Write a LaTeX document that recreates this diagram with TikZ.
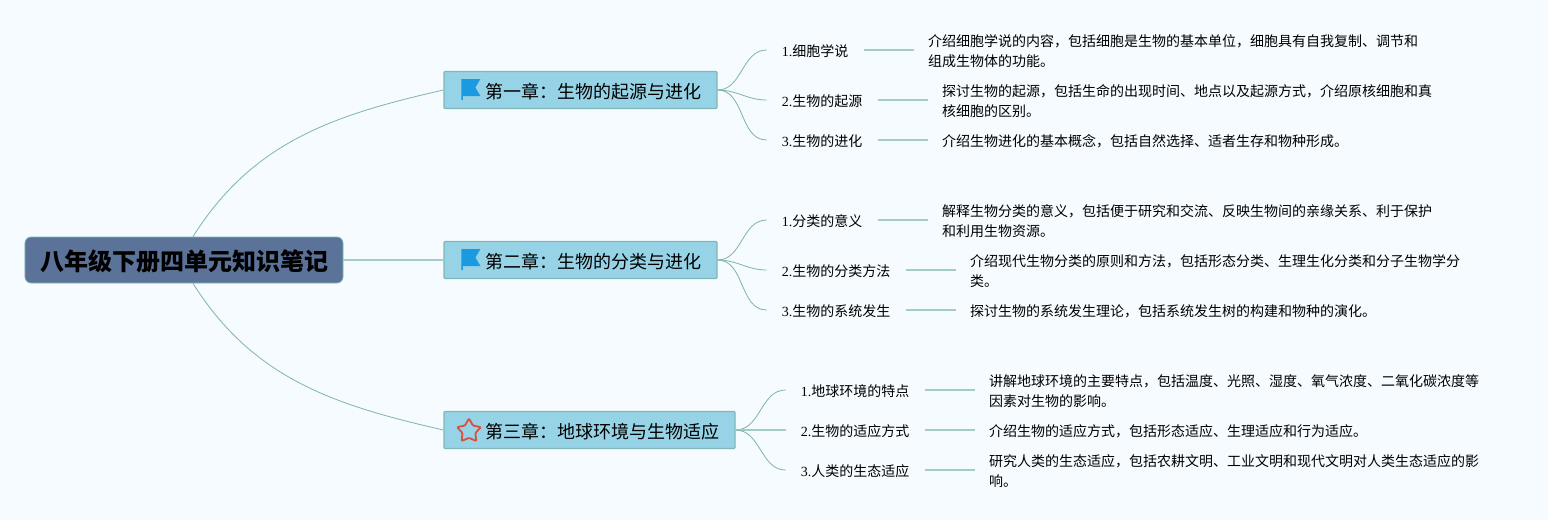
\documentclass[tikz,border=0pt]{standalone}
\usepackage{fontspec}
\setmainfont{Noto Sans CJK SC}
\newfontfamily\digitfont{Liberation Serif}
\usetikzlibrary{positioning,shapes.geometric}

\definecolor{pagebg}{HTML}{F5FBFF}
\definecolor{rootfill}{HTML}{5B7299}
\definecolor{chapfill}{HTML}{96D3E6}
\definecolor{chapedge}{HTML}{7FB8B6}
\definecolor{linkdark}{HTML}{7FB3AD}
\definecolor{linklight}{HTML}{A3CBC7}
\definecolor{flagblue}{HTML}{1A9AE0}
\definecolor{starred}{HTML}{D9503F}

\newcommand{\subnum}[1]{{\digitfont #1}}

\tikzset{
  pics/flagicon/.style={code={
    \fill[flagblue] (0pt,-10pt) -- (0pt,11pt) -- (19pt,11pt) -- (14pt,2.5pt) -- (19pt,-6pt) -- (1.5pt,-6pt) -- (1.5pt,-10pt) -- cycle;
  }}
}

\begin{document}
\begin{tikzpicture}[
  x=1pt,y=1pt,
  rootbox/.style={draw=chapedge,fill=rootfill,rounded corners=6pt,line width=0.8pt,inner xsep=13pt,inner ysep=0pt,minimum height=46pt,text height=21.2pt,text depth=0pt,font=\fontsize{24}{28}\selectfont\bfseries},
  chapbox/.style={draw=chapedge,fill=chapfill,rounded corners=1pt,line width=1.2pt,inner xsep=15.5pt,inner ysep=0pt,minimum height=37pt,text height=16.7pt,text depth=0pt,font=\fontsize{18}{22}\selectfont},
  subbox/.style={inner xsep=15pt,inner ysep=2pt,text height=12.6pt,text depth=0pt,font=\fontsize{14}{20}\selectfont},
  descbox/.style={inner xsep=14.5pt,inner ysep=2pt,yshift=-1pt,align=left,font=\fontsize{14}{20}\selectfont},
  rootlink/.style={draw=linkdark,line width=0.8pt},
  branch/.style={draw=linkdark,line width=0.8pt,out=0,in=180},
  leaf/.style={draw=linklight,line width=1.8pt}
]
\useasboundingbox (-184,260) rectangle (1364,-260);
\fill[pagebg] (-184,260) rectangle (1364,-260);

\node[rootbox,minimum width=318pt] (root) at (0,0) {\hspace{2pt}八年级下册四单元知识笔记};

\node[chapbox,right=100pt of root,yshift=170pt] (ch1) {\hspace{26pt}第一章：生物的起源与进化};
\node[chapbox,right=100pt of root] (ch2) {\hspace{26pt}第二章：生物的分类与进化};
\node[chapbox,right=100pt of root,yshift=-170pt] (ch3) {\hspace{26pt}第三章：地球环境与生物适应};

\pic at ([xshift=18pt]ch1.west) {flagicon};
\pic at ([xshift=18pt]ch2.west) {flagicon};
\node[star,star points=5,star point ratio=1.85,draw=starred,line width=1.8pt,rounded corners=1pt,minimum size=25pt,inner sep=0pt,line join=round,right=16pt of ch3.west,yshift=-1pt] (star3) {};

\node[subbox,right=49pt of ch1,yshift=40pt] (s11) {\subnum{1.}细胞学说};
\node[subbox,right=49pt of ch1,yshift=-10pt] (s12) {\subnum{2.}生物的起源};
\node[subbox,right=49pt of ch1,yshift=-50pt] (s13) {\subnum{3.}生物的进化};
\node[subbox,right=49pt of ch2,yshift=40pt] (s21) {\subnum{1.}分类的意义};
\node[subbox,right=49pt of ch2,yshift=-10pt] (s22) {\subnum{2.}生物的分类方法};
\node[subbox,right=49pt of ch2,yshift=-50pt] (s23) {\subnum{3.}生物的系统发生};
\node[subbox,right=50pt of ch3,yshift=40pt] (s31) {\subnum{1.}地球环境的特点};
\node[subbox,right=50pt of ch3] (s32) {\subnum{2.}生物的适应方式};
\node[subbox,right=50pt of ch3,yshift=-40pt] (s33) {\subnum{3.}人类的生态适应};

\node[descbox,right=50pt of s11] (d11) {介绍细胞学说的内容，包括细胞是生物的基本单位，细胞具有自我复制、调节和\\组成生物体的功能。};
\node[descbox,right=50pt of s12] (d12) {探讨生物的起源，包括生命的出现时间、地点以及起源方式，介绍原核细胞和真\\核细胞的区别。};
\node[descbox,right=50pt of s13] (d13) {介绍生物进化的基本概念，包括自然选择、适者生存和物种形成。};
\node[descbox,right=50pt of s21] (d21) {解释生物分类的意义，包括便于研究和交流、反映生物间的亲缘关系、利于保护\\和利用生物资源。};
\node[descbox,right=50pt of s22] (d22) {介绍现代生物分类的原则和方法，包括形态分类、生理生化分类和分子生物学分\\类。};
\node[descbox,right=50pt of s23] (d23) {探讨生物的系统发生理论，包括系统发生树的构建和物种的演化。};
\node[descbox,right=50pt of s31] (d31) {讲解地球环境的主要特点，包括温度、光照、湿度、氧气浓度、二氧化碳浓度等\\因素对生物的影响。};
\node[descbox,right=50pt of s32] (d32) {介绍生物的适应方式，包括形态适应、生理适应和行为适应。};
\node[descbox,right=50pt of s33] (d33) {研究人类的生态适应，包括农耕文明、工业文明和现代文明对人类生态适应的影\\响。};

\draw[rootlink] (root.69) .. controls +(60pt,95pt) and +(-110pt,-25pt) .. (ch1.west);
\draw[leaf] (root) -- (ch2);
\draw[rootlink] (root.-69) .. controls +(60pt,-95pt) and +(-110pt,25pt) .. (ch3.west);

\path (ch1.east) edge[branch] (s11.west);
\path (ch1.east) edge[branch] (s12.west);
\path (ch1.east) edge[branch] (s13.west);
\path (ch2.east) edge[branch] (s21.west);
\path (ch2.east) edge[branch] (s22.west);
\path (ch2.east) edge[branch] (s23.west);
\path (ch3.east) edge[branch] (s31.west);
\path (ch3.east) edge[leaf] (s32.west);
\path (ch3.east) edge[branch] (s33.west);

\draw[leaf] (s11) -- (s11 -| d11.west);
\draw[leaf] (s12) -- (s12 -| d12.west);
\draw[leaf] (s13) -- (s13 -| d13.west);
\draw[leaf] (s21) -- (s21 -| d21.west);
\draw[leaf] (s22) -- (s22 -| d22.west);
\draw[leaf] (s23) -- (s23 -| d23.west);
\draw[leaf] (s31) -- (s31 -| d31.west);
\draw[leaf] (s32) -- (s32 -| d32.west);
\draw[leaf] (s33) -- (s33 -| d33.west);
\end{tikzpicture}
\end{document}
